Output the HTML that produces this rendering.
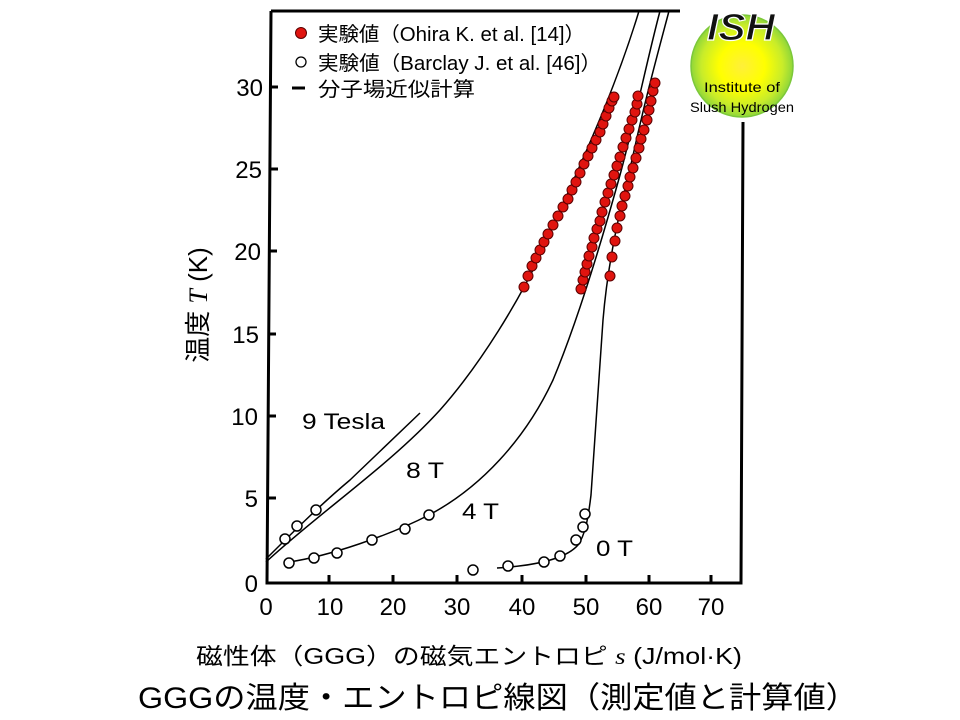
<!DOCTYPE html>
<html><head><meta charset="utf-8"><style>
html,body{margin:0;padding:0;background:#fff;}
svg{display:block;}
text{font-family:"Liberation Sans","Noto Sans CJK JP",sans-serif;fill:#000;}
</style></head><body>
<svg width="960" height="720" viewBox="0 0 960 720" xmlns="http://www.w3.org/2000/svg">
<defs>
<radialGradient id="lg" cx="50%" cy="50%" r="50%">
<stop offset="0%" stop-color="#ffef3a"/><stop offset="45%" stop-color="#ffff00"/><stop offset="80%" stop-color="#c8ec2a"/><stop offset="100%" stop-color="#8fd63a"/>
</radialGradient>
</defs>
<g stroke="#000" stroke-width="3" fill="none">
<path d="M271,11 L267,583 L741,583 L743,122"/>
<path d="M271,11 L680,11"/>
</g>
<g stroke="#000" stroke-width="3">
<line x1="329" y1="583" x2="329" y2="575"/><line x1="393" y1="583" x2="393" y2="575"/>
<line x1="457" y1="583" x2="457" y2="575"/><line x1="522" y1="583" x2="522" y2="575"/>
<line x1="586" y1="583" x2="586" y2="575"/><line x1="649" y1="583" x2="649" y2="575"/>
<line x1="711" y1="583" x2="711" y2="575"/>
<line x1="268" y1="498" x2="276" y2="498"/><line x1="268" y1="416" x2="276" y2="416"/>
<line x1="268" y1="334" x2="276" y2="334"/><line x1="269" y1="251" x2="277" y2="251"/>
<line x1="270" y1="169" x2="278" y2="169"/><line x1="270" y1="87" x2="278" y2="87"/>
</g>
<g font-size="24" text-anchor="end">
<text x="258" y="592">0</text><text x="258" y="507">5</text><text x="258" y="425">10</text>
<text x="259" y="343">15</text><text x="261" y="260">20</text><text x="262" y="178">25</text><text x="263" y="96">30</text>
</g>
<g font-size="24" text-anchor="middle">
<text x="266" y="615">0</text><text x="330" y="615">10</text><text x="393" y="615">20</text><text x="457" y="615">30</text>
<text x="522" y="615">40</text><text x="586" y="615">50</text><text x="649" y="615">60</text><text x="711" y="615">70</text>
</g>
<g stroke="#000" stroke-width="1.5" fill="none">
<path d="M266,559 C290,535 320,505 350,480 L420,413"/>
<path d="M266,562 C320,512 390,465 440,410 C480,365 520,300 545,245 C575,175 612,100 639,11"/>
<path d="M289,562 C330,556 390,535 429,515 C480,488 525,440 553,380 C578,320 602,240 620,175 C635,120 647,60 660,11"/>
<path d="M497,568 C530,566 565,560 578,545 C585,535 588,520 591,495 C596,430 600,370 603,320 C608,260 620,210 632,160 C645,100 656,60 669,11"/>
</g>
<g stroke="#000" stroke-width="1.5" fill="#fff">
<circle cx="285" cy="539" r="5"/><circle cx="297" cy="526" r="5"/><circle cx="316" cy="510" r="5"/>
<circle cx="289" cy="563" r="5"/><circle cx="314" cy="558" r="5"/><circle cx="337" cy="553" r="5"/>
<circle cx="372" cy="540" r="5"/><circle cx="405" cy="529" r="5"/><circle cx="429" cy="515" r="5"/>
<circle cx="473" cy="570" r="5"/><circle cx="508" cy="566" r="5"/><circle cx="544" cy="562" r="5"/>
<circle cx="560" cy="556" r="5"/><circle cx="576" cy="540" r="5"/><circle cx="583" cy="527" r="5"/><circle cx="585" cy="514" r="5"/>
</g>
<g stroke="#5a0000" stroke-width="1" fill="#e0140f">
<circle cx="524" cy="287" r="5"/><circle cx="528" cy="276" r="5"/><circle cx="532" cy="266" r="5"/><circle cx="536" cy="258" r="5"/><circle cx="540" cy="250" r="5"/><circle cx="544" cy="242" r="5"/><circle cx="548" cy="234" r="5"/><circle cx="553" cy="225" r="5"/><circle cx="558" cy="216" r="5"/><circle cx="563" cy="207" r="5"/><circle cx="568" cy="199" r="5"/><circle cx="572" cy="190" r="5"/><circle cx="576" cy="182" r="5"/><circle cx="580" cy="173" r="5"/><circle cx="584" cy="164" r="5"/><circle cx="588" cy="156" r="5"/><circle cx="592" cy="148" r="5"/><circle cx="596" cy="140" r="5"/><circle cx="600" cy="132" r="5"/><circle cx="603" cy="124" r="5"/><circle cx="606" cy="116" r="5"/><circle cx="609" cy="108" r="5"/><circle cx="612" cy="101" r="5"/><circle cx="614" cy="97" r="5"/>
<circle cx="581" cy="289" r="5"/><circle cx="583" cy="280" r="5"/><circle cx="585" cy="272" r="5"/><circle cx="587" cy="264" r="5"/><circle cx="589" cy="256" r="5"/><circle cx="592" cy="247" r="5"/><circle cx="594" cy="238" r="5"/><circle cx="597" cy="229" r="5"/><circle cx="600" cy="221" r="5"/><circle cx="602" cy="212" r="5"/><circle cx="605" cy="202" r="5"/><circle cx="608" cy="193" r="5"/><circle cx="611" cy="184" r="5"/><circle cx="614" cy="175" r="5"/><circle cx="617" cy="166" r="5"/><circle cx="620" cy="157" r="5"/><circle cx="623" cy="147" r="5"/><circle cx="626" cy="138" r="5"/><circle cx="629" cy="129" r="5"/><circle cx="632" cy="120" r="5"/><circle cx="635" cy="112" r="5"/><circle cx="637" cy="104" r="5"/><circle cx="638" cy="96" r="5"/>
<circle cx="610" cy="276" r="5"/><circle cx="612" cy="257" r="5"/><circle cx="615" cy="241" r="5"/><circle cx="617" cy="228" r="5"/><circle cx="620" cy="216" r="5"/><circle cx="622" cy="206" r="5"/><circle cx="625" cy="196" r="5"/><circle cx="628" cy="186" r="5"/><circle cx="630" cy="177" r="5"/><circle cx="633" cy="168" r="5"/><circle cx="636" cy="158" r="5"/><circle cx="639" cy="148" r="5"/><circle cx="641" cy="139" r="5"/><circle cx="644" cy="130" r="5"/><circle cx="647" cy="120" r="5"/><circle cx="649" cy="110" r="5"/><circle cx="651" cy="101" r="5"/><circle cx="653" cy="91" r="5"/><circle cx="655" cy="83" r="5"/>
</g>
<g font-size="22">
<text x="302" y="429" textLength="83" lengthAdjust="spacingAndGlyphs">9 Tesla</text>
<text x="406" y="478" textLength="38" lengthAdjust="spacingAndGlyphs">8 T</text>
<text x="462" y="519" textLength="37" lengthAdjust="spacingAndGlyphs">4 T</text>
<text x="596" y="556" textLength="37" lengthAdjust="spacingAndGlyphs">0 T</text>
</g>
<circle cx="301" cy="33" r="5.5" fill="#e0140f" stroke="#5a0000" stroke-width="1"/>
<text x="318" y="41" font-size="20" textLength="267" lengthAdjust="spacingAndGlyphs">実験値（Ohira K. et al. [14]）</text>
<circle cx="301" cy="62" r="5" fill="#fff" stroke="#000" stroke-width="1.3"/>
<text x="318" y="70" font-size="20" textLength="283" lengthAdjust="spacingAndGlyphs">実験値（Barclay J. et al. [46]）</text>
<line x1="292" y1="88" x2="305" y2="88" stroke="#000" stroke-width="3"/>
<text x="318" y="96" font-size="20" textLength="157" lengthAdjust="spacingAndGlyphs">分子場近似計算</text>
<circle cx="742" cy="66" r="51" fill="url(#lg)" stroke="#7cc83a" stroke-width="1.5"/>
<text x="741" y="40" font-size="38" font-weight="bold" font-style="italic" text-anchor="middle" stroke="#fff" stroke-width="1.2" style="fill:#111" textLength="68" lengthAdjust="spacingAndGlyphs">ISH</text>
<text x="742" y="92" font-size="14" text-anchor="middle" textLength="76" lengthAdjust="spacingAndGlyphs">Institute of</text>
<text x="742" y="112" font-size="14" text-anchor="middle" textLength="104" lengthAdjust="spacingAndGlyphs">Slush Hydrogen</text>
<text transform="translate(207,305) rotate(-90)" font-size="26" text-anchor="middle">温度 <tspan font-family="Liberation Serif" font-style="italic">T</tspan> (K)</text>
<text x="196" y="664" font-size="23" textLength="546" lengthAdjust="spacingAndGlyphs">磁性体（GGG）の磁気エントロピ <tspan font-family="Liberation Serif" font-style="italic">s</tspan> (J/mol·K)</text>
<text x="138" y="708" font-size="30" textLength="720" lengthAdjust="spacingAndGlyphs">GGGの温度・エントロピ線図（測定値と計算値）</text>
</svg>
</body></html>
